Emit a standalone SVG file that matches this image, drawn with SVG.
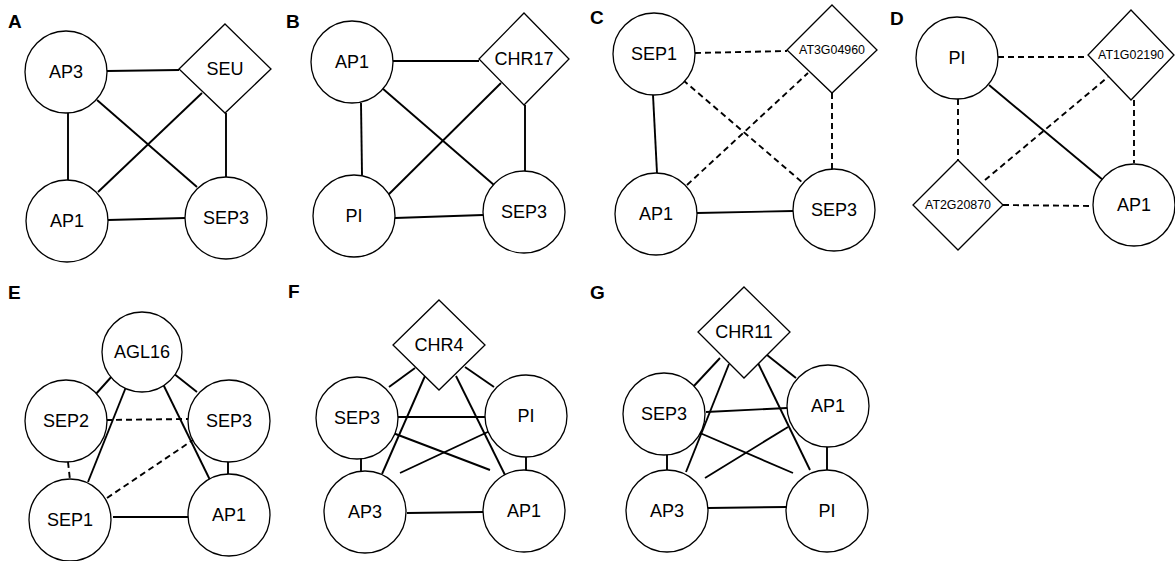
<svg xmlns="http://www.w3.org/2000/svg" width="1175" height="561" viewBox="0 0 1175 561">
  <style>
    .bg { fill: #ffffff; }
    .node { fill: #ffffff; stroke: #000000; stroke-width: 1.3; }
    .lbl { font-family: "Liberation Sans", Arial, sans-serif; font-size: 18px; fill: #000000; text-anchor: middle; dominant-baseline: central; }
    .small { font-size: 12.4px; }
    .panel { font-family: "Liberation Sans", Arial, sans-serif; font-size: 19px; font-weight: bold; fill: #000000; }
    .edge { stroke: #000000; stroke-width: 1.9; fill: none; }
    .dash { stroke-dasharray: 6 4; }
  </style>
  <rect class="bg" x="0" y="0" width="1175" height="561"/>

  <!-- panel letters -->
  <g id="panel-labels">
    <text class="panel" x="8" y="28">A</text>
    <text class="panel" x="286" y="28">B</text>
    <text class="panel" x="590" y="24">C</text>
    <text class="panel" x="890" y="25">D</text>
    <text class="panel" x="8" y="299">E</text>
    <text class="panel" x="288" y="298">F</text>
    <text class="panel" x="590" y="299">G</text>
  </g>

  <!-- connectors -->
  <g id="connectors">
    <!-- A -->
    <line class="edge" x1="107" y1="71" x2="179" y2="70"/>
    <line class="edge" x1="68" y1="113" x2="68" y2="180"/>
    <line class="edge" x1="97" y1="100" x2="197" y2="187"/>
    <line class="edge" x1="98" y1="192" x2="202" y2="93"/>
    <line class="edge" x1="226" y1="113" x2="226" y2="177"/>
    <line class="edge" x1="108" y1="220" x2="185" y2="218"/>
    <!-- B -->
    <line class="edge" x1="393" y1="61" x2="479" y2="61"/>
    <line class="edge" x1="361" y1="103" x2="362" y2="175"/>
    <line class="edge" x1="382" y1="88" x2="494" y2="185"/>
    <line class="edge" x1="383" y1="200" x2="501" y2="83"/>
    <line class="edge" x1="525" y1="105" x2="525" y2="172"/>
    <line class="edge" x1="395" y1="218" x2="483" y2="215"/>
    <!-- C -->
    <line class="edge dash" x1="695" y1="53" x2="787" y2="51"/>
    <line class="edge" x1="653" y1="95" x2="657" y2="173"/>
    <line class="edge dash" x1="683" y1="80" x2="803" y2="183"/>
    <line class="edge dash" x1="687" y1="185" x2="808" y2="73"/>
    <line class="edge dash" x1="832" y1="93" x2="832" y2="172"/>
    <line class="edge" x1="697" y1="213" x2="793" y2="211"/>
    <!-- D -->
    <line class="edge dash" x1="998" y1="57" x2="1088" y2="57"/>
    <line class="edge dash" x1="958" y1="99" x2="958" y2="160"/>
    <line class="edge" x1="989" y1="85" x2="1103" y2="180"/>
    <line class="edge dash" x1="985" y1="180" x2="1108" y2="77"/>
    <line class="edge dash" x1="1134" y1="100" x2="1134" y2="163"/>
    <line class="edge dash" x1="1003" y1="205" x2="1093" y2="206"/>
    <!-- E -->
    <line class="edge" x1="113" y1="375" x2="95" y2="395"/>
    <line class="edge" x1="173" y1="373" x2="197" y2="392"/>
    <line class="edge" x1="128" y1="382" x2="88" y2="482"/>
    <line class="edge" x1="162" y1="382" x2="210" y2="480"/>
    <line class="edge dash" x1="106" y1="420" x2="188" y2="419"/>
    <line class="edge dash" x1="68" y1="462" x2="70" y2="480"/>
    <line class="edge dash" x1="107" y1="498" x2="193" y2="440"/>
    <line class="edge" x1="228" y1="460" x2="228" y2="474"/>
    <line class="edge" x1="113" y1="517" x2="188" y2="517"/>
    <!-- F -->
    <line class="edge" x1="415" y1="368" x2="389" y2="387"/>
    <line class="edge" x1="465" y1="367" x2="494" y2="387"/>
    <line class="edge" x1="425" y1="376" x2="382" y2="474"/>
    <line class="edge" x1="456" y1="376" x2="505" y2="475"/>
    <line class="edge" x1="398" y1="417" x2="485" y2="417"/>
    <line class="edge" x1="393" y1="433" x2="490" y2="470"/>
    <line class="edge" x1="492" y1="430" x2="400" y2="473"/>
    <line class="edge" x1="361" y1="457" x2="361" y2="472"/>
    <line class="edge" x1="526" y1="457" x2="526" y2="470"/>
    <line class="edge" x1="407" y1="513" x2="483" y2="512"/>
    <!-- G -->
    <line class="edge" x1="720" y1="358" x2="693" y2="387"/>
    <line class="edge" x1="767" y1="355" x2="796" y2="378"/>
    <line class="edge" x1="729" y1="364" x2="686" y2="472"/>
    <line class="edge" x1="758" y1="363" x2="810" y2="470"/>
    <line class="edge" x1="706" y1="412" x2="787" y2="408"/>
    <line class="edge" x1="700" y1="433" x2="793" y2="473"/>
    <line class="edge" x1="788" y1="427" x2="705" y2="478"/>
    <line class="edge" x1="667" y1="455" x2="667" y2="470"/>
    <line class="edge" x1="827" y1="447" x2="827" y2="470"/>
    <line class="edge" x1="708" y1="508" x2="787" y2="507"/>
  </g>

  <!-- Panel A nodes -->
  <g id="A-AP3"><circle class="node" cx="66" cy="72" r="41"/><text class="lbl" x="66" y="72">AP3</text></g>
  <g id="A-SEU"><polygon class="node" points="225,24 271,69 225,113 179,69"/><text class="lbl" x="225" y="69">SEU</text></g>
  <g id="A-AP1"><circle class="node" cx="67" cy="221" r="41"/><text class="lbl" x="67" y="221">AP1</text></g>
  <g id="A-SEP3"><circle class="node" cx="226" cy="218" r="41"/><text class="lbl" x="226" y="218">SEP3</text></g>

  <!-- Panel B nodes -->
  <g id="B-AP1"><circle class="node" cx="352" cy="62" r="41"/><text class="lbl" x="352" y="62">AP1</text></g>
  <g id="B-CHR17"><polygon class="node" points="524,13 569,59 524,105 479,59"/><text class="lbl" x="524" y="59">CHR17</text></g>
  <g id="B-PI"><circle class="node" cx="354" cy="216" r="41"/><text class="lbl" x="354" y="216">PI</text></g>
  <g id="B-SEP3"><circle class="node" cx="524" cy="212" r="41"/><text class="lbl" x="524" y="212">SEP3</text></g>

  <!-- Panel C nodes -->
  <g id="C-SEP1"><circle class="node" cx="654" cy="54" r="41"/><text class="lbl" x="654" y="54">SEP1</text></g>
  <g id="C-AT3G04960"><polygon class="node" points="832,5 877,50 832,93 787,50"/><text class="lbl small" x="832" y="50">AT3G04960</text></g>
  <g id="C-AP1"><circle class="node" cx="656" cy="214" r="41"/><text class="lbl" x="656" y="214">AP1</text></g>
  <g id="C-SEP3"><circle class="node" cx="834" cy="210" r="41"/><text class="lbl" x="834" y="210">SEP3</text></g>

  <!-- Panel D nodes -->
  <g id="D-PI"><circle class="node" cx="957" cy="58" r="41"/><text class="lbl" x="957" y="58">PI</text></g>
  <g id="D-AT1G02190"><polygon class="node" points="1131,10 1174,55 1131,100 1088,55"/><text class="lbl small" x="1131" y="55">AT1G02190</text></g>
  <g id="D-AT2G20870"><polygon class="node" points="958,160 1003,205 958,250 913,205"/><text class="lbl small" x="958" y="205">AT2G20870</text></g>
  <g id="D-AP1"><circle class="node" cx="1134" cy="205" r="41"/><text class="lbl" x="1134" y="205">AP1</text></g>

  <!-- Panel E nodes -->
  <g id="E-AGL16"><circle class="node" cx="142" cy="352" r="40"/><text class="lbl" x="142" y="352">AGL16</text></g>
  <g id="E-SEP2"><circle class="node" cx="66" cy="421" r="41"/><text class="lbl" x="66" y="421">SEP2</text></g>
  <g id="E-SEP3"><circle class="node" cx="229" cy="421" r="41"/><text class="lbl" x="229" y="421">SEP3</text></g>
  <g id="E-SEP1"><circle class="node" cx="70" cy="520" r="41"/><text class="lbl" x="70" y="520">SEP1</text></g>
  <g id="E-AP1"><circle class="node" cx="229" cy="515" r="41"/><text class="lbl" x="229" y="515">AP1</text></g>

  <!-- Panel F nodes -->
  <g id="F-CHR4"><polygon class="node" points="439,300 485,345 439,390 393,345"/><text class="lbl" x="439" y="345">CHR4</text></g>
  <g id="F-SEP3"><circle class="node" cx="357" cy="418" r="41"/><text class="lbl" x="357" y="418">SEP3</text></g>
  <g id="F-PI"><circle class="node" cx="526" cy="416" r="41"/><text class="lbl" x="526" y="416">PI</text></g>
  <g id="F-AP3"><circle class="node" cx="365" cy="512" r="41"/><text class="lbl" x="365" y="512">AP3</text></g>
  <g id="F-AP1"><circle class="node" cx="524" cy="511" r="41"/><text class="lbl" x="524" y="511">AP1</text></g>

  <!-- Panel G nodes -->
  <g id="G-CHR11"><polygon class="node" points="744,287 790,332 744,378 698,332"/><text class="lbl" x="744" y="332">CHR11</text></g>
  <g id="G-SEP3"><circle class="node" cx="664" cy="414" r="41"/><text class="lbl" x="664" y="414">SEP3</text></g>
  <g id="G-AP1"><circle class="node" cx="828" cy="406" r="41"/><text class="lbl" x="828" y="406">AP1</text></g>
  <g id="G-AP3"><circle class="node" cx="667" cy="511" r="41"/><text class="lbl" x="667" y="511">AP3</text></g>
  <g id="G-PI"><circle class="node" cx="827" cy="511" r="41"/><text class="lbl" x="827" y="511">PI</text></g>
</svg>
